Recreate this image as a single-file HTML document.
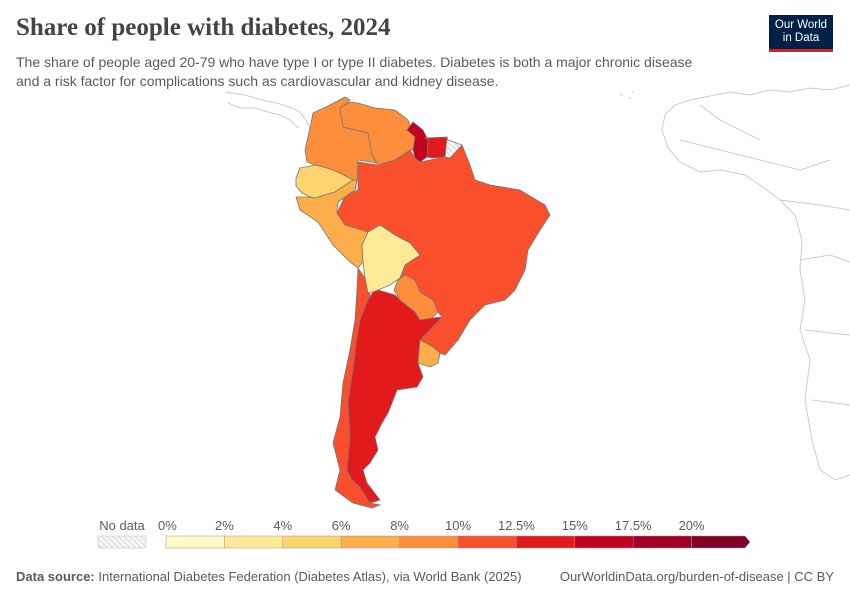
<!DOCTYPE html>
<html><head><meta charset="utf-8"><style>
body{margin:0;background:#fff;font-family:"Liberation Sans",sans-serif;}
#wrap{position:relative;width:850px;height:600px;overflow:hidden;}
.t{position:absolute;white-space:nowrap;}
</style></head><body>
<div id="wrap">
<div class="t" style="left:16px;top:14px;font-family:'Liberation Serif',serif;font-size:25px;color:#444;font-weight:bold;">Share of people with diabetes, 2024</div>
<div class="t" style="left:16px;top:53px;font-size:14px;line-height:19px;color:#5b5b5b;">The share of people aged 20-79 who have type I or type II diabetes. Diabetes is both a major chronic disease<br>and a risk factor for complications such as cardiovascular and kidney disease.</div>
<div style="position:absolute;left:769px;top:15px;width:64px;height:37px;background:#002147;border-bottom:3px solid #ce261e;box-sizing:border-box;color:#fff;font-size:11.5px;line-height:13px;text-align:center;padding-top:4px;">Our World<br>in Data</div>
<svg id="map" width="850" height="600" style="position:absolute;left:0;top:0">
<g fill="none" stroke="#ccc" stroke-width="1">
<path d="M225,92 L245,95 L262,100 L280,104 L292,108 L300,112 L306,120 L310,128 M298,128 L290,120 L280,115 L268,112 L255,108 L240,108 L228,103"/>
<path d="M850,85 L830,90 L810,88 L790,92 L770,90 L750,95 L730,92 L710,96 L690,100 L675,105 L665,115 L662,130 L668,148 L680,162 L700,172 L720,170 L745,175 L760,185 L780,200 L795,215 L802,240 L800,270 L805,300 L800,330 L810,360 L805,400 L812,440 L820,470 L835,480 L850,475 M700,105 L720,120 L740,130 L760,140 M680,140 L720,150 L760,160 L800,170 L830,160 M780,200 L820,205 L850,210 M800,260 L830,255 L850,262 M805,330 L850,335 M812,400 L850,405"/>
<path d="M620,95 l3,0 M628,98 l3,0 M632,92 l2,0"/>
</g>
<g id="countries" stroke="#777" stroke-width="0.8"></g>
<g id="legend"></g>
</svg>
<div class="t" style="left:16px;top:569px;font-size:13px;color:#5b5b5b;"><b>Data source:</b> International Diabetes Federation (Diabetes Atlas), via World Bank (2025)</div>
<div class="t" style="right:16px;top:569px;font-size:13px;color:#5b5b5b;">OurWorldinData.org/burden-of-disease | CC BY</div>
</div>
<script>
const countryNames=["Chile","Argentina","Brazil","Colombia","Venezuela","Ecuador","Peru","Bolivia","Paraguay","Uruguay","Guyana","Suriname","French Guiana"];
const countryValues=[11.5,13.5,11.2,8.8,9.0,5.0,7.0,3.0,9.2,7.2,15.5,13.0,null];
const binEdges=[0,2,4,6,8,10,12.5,15,17.5,20,22.5];
const tickLabels=["0%","2%","4%","6%","8%","10%","12.5%","15%","17.5%","20%"];
const binColors=["#fefac8","#fee999","#fed46e","#fdae4a","#fc8d3b","#f94f2c","#e31a1c","#c4001f","#a30026","#800026"];
const shapes={
"Chile":"M358,268 L365,278 L370,295 L368,300 L360,320 L357,337 L353,370 L348,403 L350,437 L347,470 L352,480 L360,487 L370,503 L380,505 L372,508 L353,503 L335,490 L340,470 L333,443 L340,417 L343,383 L350,350 L355,320 L357,290 Z",
"Argentina":"M373,292 L378,290 L395,295 L400,300 L415,312 L420,320 L432,318 L442,317 L427,333 L420,340 L418,363 L423,377 L417,387 L397,390 L392,403 L388,413 L382,423 L375,437 L378,450 L370,463 L363,470 L367,483 L380,500 L370,503 L360,487 L352,480 L347,470 L350,437 L348,403 L353,370 L357,337 L360,320 L368,300 Z",
"Brazil":"M337,213 L345,196 L358,190 L358,162 L378,165 L395,160 L410,150 L415,158 L420,162 L445,157 L450,158 L462,145 L470,165 L475,180 L490,185 L520,190 L545,205 L550,215 L540,230 L528,250 L525,270 L515,290 L505,300 L485,305 L470,320 L458,340 L445,355 L440,353 L433,347 L420,340 L427,333 L442,317 L438,312 L433,300 L420,292 L415,280 L405,275 L400,278 L405,265 L420,255 L410,243 L395,235 L380,225 L368,232 L355,228 L345,225 L335,220 Z",
"Colombia":"M345,97 L350,100 L342,108 L340,108 L343,127 L368,133 L372,155 L377,163 L358,160 L357,180 L355,190 L338,202 L353,180 L340,173 L327,168 L315,165 L307,162 L305,150 L310,128 L313,113 L330,105 Z",
"Venezuela":"M340,108 L350,102 L358,103 L375,108 L395,110 L408,120 L412,130 L407,130 L415,137 L413,150 L410,150 L395,160 L378,165 L377,163 L372,155 L368,133 L343,127 Z",
"Ecuador":"M300,168 L315,165 L327,168 L340,173 L353,180 L345,188 L335,192 L315,198 L310,197 L302,193 L296,186 L296,178 Z",
"Peru":"M296,197 L307,197 L315,198 L335,192 L353,180 L357,180 L355,190 L338,202 L337,213 L345,225 L355,228 L368,232 L362,245 L363,262 L358,268 L350,262 L333,245 L318,222 L300,210 Z",
"Bolivia":"M368,232 L380,225 L395,235 L410,243 L420,255 L405,265 L400,278 L390,285 L378,290 L373,292 L368,293 L365,278 L363,262 L362,245 Z",
"Paraguay":"M398,280 L405,275 L415,280 L420,292 L433,300 L438,312 L432,318 L420,320 L415,312 L400,300 L394,290 Z",
"Uruguay":"M420,340 L433,347 L440,353 L438,363 L430,367 L418,363 Z",
"Guyana":"M407,130 L413,122 L423,130 L428,140 L427,157 L420,162 L415,158 L413,150 L415,137 Z",
"Suriname":"M425,138 L447,137 L445,157 L432,158 L427,157 L428,140 Z",
"French Guiana":"M448,140 L462,145 L450,158 L445,157 L447,137 Z"};
const NS="http://www.w3.org/2000/svg";
function colorFor(v){if(v==null)return "url(#hatch)";for(let i=0;i<binColors.length;i++){if(v<binEdges[i+1])return binColors[i];}return binColors[binColors.length-1];}
const svg=document.getElementById('map');
const defs=document.createElementNS(NS,'defs');
defs.innerHTML='<pattern id="hatch" width="4" height="4" patternUnits="userSpaceOnUse" patternTransform="rotate(-45)"><rect width="4" height="4" fill="#f7f7f7"/><line x1="0" y1="0" x2="0" y2="4" stroke="#ccc" stroke-width="1.5"/></pattern>';
svg.insertBefore(defs,svg.firstChild);
const cg=document.getElementById('countries');
countryNames.forEach((n,i)=>{const p=document.createElementNS(NS,'path');p.setAttribute('d',shapes[n]);p.setAttribute('fill',colorFor(countryValues[i]));


cg.appendChild(p);});
const lg=document.getElementById('legend');
const x0=166,x1=750,ly=536,lh=12;
const nb=binEdges.length-1;
const xs=i=>x0+i/nb*(x1-x0);
binColors.forEach((c,i)=>{const r=document.createElementNS(NS,i==binColors.length-1?'path':'rect');
if(i==binColors.length-1){const a=xs(i),b=xs(i+1);r.setAttribute('d',`M${a},${ly} L${b-5},${ly} L${b},${ly+lh/2} L${b-5},${ly+lh} L${a},${ly+lh} Z`);}
else{r.setAttribute('x',xs(i));r.setAttribute('y',ly);r.setAttribute('width',xs(i+1)-xs(i));r.setAttribute('height',lh);}
r.setAttribute('fill',c);r.setAttribute('stroke','#999');r.setAttribute('stroke-width','0.5');


lg.appendChild(r);});
tickLabels.forEach((t,i)=>{const x=xs(i);const tx=document.createElementNS(NS,'text');tx.setAttribute('x',i==0?x-8:x);tx.setAttribute('y',530);tx.setAttribute('text-anchor',i==0?'start':'middle');tx.setAttribute('font-size','13');tx.setAttribute('fill','#5b5b5b');tx.setAttribute('font-family','Liberation Sans, sans-serif');tx.textContent=t;


lg.appendChild(tx);});
const nd=document.createElementNS(NS,'rect');nd.setAttribute('x',98);nd.setAttribute('y',ly);nd.setAttribute('width',48);nd.setAttribute('height',lh);nd.setAttribute('fill','url(#hatch)');nd.setAttribute('stroke','#bbb');nd.setAttribute('stroke-width','0.5');


lg.appendChild(nd);
const ndt=document.createElementNS(NS,'text');ndt.setAttribute('x',122);ndt.setAttribute('y',530);ndt.setAttribute('text-anchor','middle');ndt.setAttribute('font-size','13');ndt.setAttribute('fill','#5b5b5b');ndt.setAttribute('font-family','Liberation Sans, sans-serif');ndt.textContent='No data';


lg.appendChild(ndt);
</script>
</body></html>
